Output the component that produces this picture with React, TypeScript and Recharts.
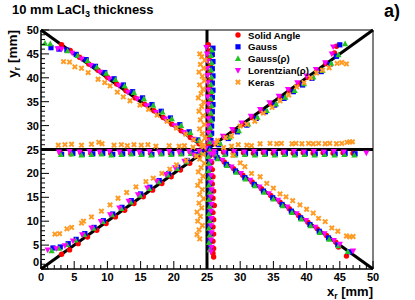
import React from 'react';
import { ScatterChart, Scatter, XAxis, YAxis, ReferenceLine, ReferenceArea, Legend } from 'recharts';

type P = [number, number];

// Solid Angle (red circles)
const solidAngle: P[] = [
  [3.1,46.9],[4.4,45.7],[5.8,44.3],[7.2,42.9],[8.6,41.6],[10.0,40.1],[11.4,38.7],[12.8,37.3],[14.2,35.8],[15.6,34.5],[17.0,33.1],[18.4,31.7],[19.7,30.3],[21.1,28.9],[22.5,27.5],[23.8,26.2],
  [25.2,46.9],[25.4,45.6],[25.3,44.1],[25.5,42.6],[25.4,41.1],[25.5,39.6],[25.4,38.1],[25.5,36.6],[25.5,35.1],[25.4,33.6],[25.5,32.1],[25.4,30.6],[25.4,29.1],[25.3,27.6],[25.2,26.2],
  [26.3,26.2],[27.6,27.6],[29.0,28.9],[30.4,30.3],[31.8,31.7],[33.2,33.1],[34.6,34.5],[36.0,35.9],[37.4,37.3],[38.8,38.7],[40.2,40.1],[41.6,41.5],[42.9,43.0],[44.2,45.2],[44.5,46.6],
  [2.9,24.3],[4.5,24.1],[6.0,24.3],[7.5,24.2],[9.0,24.3],[10.5,24.2],[12.0,24.3],[13.5,24.2],[15.0,24.3],[16.5,24.2],[18.0,24.3],[19.5,24.2],[21.0,24.3],[22.5,24.4],[24.0,24.6],
  [26.0,24.5],[27.5,24.4],[29.0,24.3],[30.5,24.3],[32.0,24.2],[33.5,24.3],[35.0,24.2],[36.5,24.3],[38.0,24.2],[39.5,24.3],[41.0,24.2],[42.5,24.3],[44.0,24.2],[45.5,24.3],[47.0,24.2],
  [3.1,3.1],[4.3,4.0],[5.6,5.3],[7.0,6.7],[8.4,8.1],[9.8,9.5],[11.2,10.9],[12.6,12.3],[14.0,13.7],[15.4,15.1],[16.8,16.5],[18.2,17.9],[19.6,19.3],[21.0,20.7],[22.4,22.1],[23.8,23.6],
  [26.2,23.8],[27.6,22.4],[29.0,21.0],[30.4,19.6],[31.8,18.2],[33.2,16.8],[34.6,15.4],[36.0,14.0],[37.4,12.6],[38.8,11.2],[40.2,9.8],[41.6,8.4],[43.0,7.0],[44.4,5.6],[44.8,4.6],[46.0,2.7],
  [25.5,23.8],[25.7,22.3],[25.8,20.8],[25.9,19.3],[25.8,17.8],[26.0,16.3],[25.9,14.8],[26.1,13.3],[25.9,11.8],[26.0,10.3],[25.9,8.8],[26.0,7.3],[25.9,5.8],[26.0,4.3],[25.9,3.3],[26.0,2.5],
  [25.0,25.0],
];

// Gauss (blue squares)
const gauss: P[] = [
  [1.5,46.3],[2.7,46.0],[3.9,45.8],[5.3,44.9],[6.8,43.8],[8.2,42.4],[9.6,41.1],[11.0,39.8],[12.4,38.5],[13.8,37.1],[15.3,35.8],[16.7,34.4],[18.1,33.0],[19.5,31.6],[20.9,30.2],[22.3,28.7],[23.6,27.0],
  [25.9,46.2],[25.8,44.9],[25.9,43.4],[25.8,41.9],[25.9,40.4],[25.8,38.9],[25.9,37.4],[25.8,35.9],[25.9,34.4],[25.8,32.9],[25.8,31.4],[25.7,29.9],[25.7,28.4],[25.6,26.9],
  [26.8,26.0],[28.2,27.3],[29.6,28.7],[31.0,30.1],[32.4,31.5],[33.8,32.9],[35.2,34.3],[36.6,35.7],[38.0,37.1],[39.4,38.5],[40.8,39.9],[42.2,41.3],[43.5,42.8],[44.5,44.5],[45.0,46.9],
  [3.1,24.0],[4.8,24.2],[6.2,24.0],[7.8,24.1],[9.3,24.2],[10.8,24.0],[12.3,24.1],[13.8,24.2],[15.2,24.1],[16.7,24.0],[18.2,24.2],[19.7,24.1],[21.2,24.2],[22.7,24.3],[24.2,24.4],
  [26.3,24.3],[27.8,24.2],[29.3,24.1],[30.8,24.2],[32.3,24.1],[33.8,24.2],[35.3,24.1],[36.8,24.2],[38.3,24.1],[39.8,24.2],[41.3,24.1],[42.8,24.2],[44.3,24.1],[45.8,24.2],[47.3,24.1],
  [1.8,4.4],[2.9,4.6],[4.1,5.3],[5.3,6.2],[6.6,7.4],[8.0,8.7],[9.4,10.1],[10.8,11.5],[12.2,12.9],[13.6,14.3],[15.0,15.7],[16.4,17.1],[17.8,18.5],[19.2,19.9],[20.6,21.3],[22.0,22.7],[23.4,24.0],
  [26.5,23.3],[27.9,21.9],[29.3,20.5],[30.7,19.1],[32.1,17.7],[33.5,16.3],[34.9,14.9],[36.3,13.5],[37.7,12.1],[39.1,10.7],[40.5,9.3],[41.9,7.9],[43.3,6.5],[44.7,5.1],[46.5,3.6],
  [25.3,23.9],[25.4,22.4],[25.3,20.9],[25.4,19.4],[25.4,17.9],[25.5,16.4],[25.4,14.9],[25.5,13.4],[25.4,11.9],[25.5,10.4],[25.4,8.9],[25.5,7.4],[25.4,5.9],[25.5,4.4],
  [25.3,25.2],
];

// Gauss(rho) (green triangles)
const gaussRho: P[] = [
  [0.6,47.2],[1.4,47.1],[4.0,45.6],[5.5,44.6],[7.0,43.5],[8.4,42.2],[9.8,40.9],[11.2,39.6],[12.6,38.3],[14.0,36.9],[15.5,35.6],[16.9,34.2],[18.3,32.8],[19.7,31.4],[21.1,30.0],[22.5,28.5],[23.8,26.9],
  [25.7,45.8],[25.6,44.6],[25.7,43.1],[25.6,41.6],[25.7,40.1],[25.6,38.6],[25.7,37.1],[25.6,35.6],[25.7,34.1],[25.6,32.6],[25.6,31.1],[25.5,29.6],[25.5,28.1],[25.4,26.6],
  [27.0,26.2],[28.4,27.5],[29.8,28.9],[31.2,30.3],[32.6,31.7],[34.0,33.1],[35.4,34.5],[36.8,35.9],[38.2,37.3],[39.6,38.7],[41.0,40.1],[42.4,41.5],[43.7,43.0],[44.8,44.8],[45.8,47.1],
  [3.0,23.9],[4.6,24.0],[6.1,23.8],[7.6,23.9],[9.1,24.0],[10.6,23.8],[12.1,23.9],[13.6,24.0],[15.1,23.9],[16.6,23.8],[18.1,24.0],[19.6,23.9],[21.1,24.0],[22.6,24.1],[24.1,24.3],
  [26.2,24.0],[27.7,23.9],[29.2,23.8],[30.7,23.9],[32.2,23.8],[33.7,23.9],[35.2,23.8],[36.7,23.9],[38.2,23.8],[39.7,23.9],[41.2,23.8],[42.7,23.9],[44.2,23.8],[45.7,23.9],[47.2,23.8],
  [1.6,3.8],[2.7,4.3],[3.9,5.1],[5.2,6.0],[6.5,7.2],[7.9,8.5],[9.3,9.9],[10.7,11.3],[12.1,12.6],[13.5,14.0],[14.9,15.4],[16.3,16.8],[17.7,18.2],[19.1,19.6],[20.5,21.0],[21.9,22.4],[23.3,23.7],
  [26.6,23.0],[28.0,21.6],[29.4,20.2],[30.8,18.8],[32.2,17.4],[33.6,16.0],[35.0,14.6],[36.4,13.2],[37.8,11.8],[39.2,10.4],[40.6,9.0],[42.0,7.6],[43.4,6.2],[44.8,4.8],[46.2,3.6],
  [25.2,23.5],[25.3,22.0],[25.2,20.5],[25.3,19.0],[25.3,17.5],[25.4,16.0],[25.3,14.5],[25.4,13.0],[25.3,11.5],[25.4,10.0],[25.3,8.5],[25.4,7.0],[25.3,5.5],[25.4,4.0],
  [25.4,24.8],
];

// Lorentzian(rho) (magenta inverted triangles)
const lorentzRho: P[] = [
  [2.5,46.1],[3.1,46.0],[4.7,45.2],[6.1,44.0],[7.5,42.6],[8.9,41.2],[10.3,39.8],[11.7,38.4],[13.1,37.0],[14.5,35.6],[15.9,34.2],[17.3,32.8],[18.7,31.4],[20.1,30.0],[21.5,28.6],[22.9,27.2],[24.2,25.9],
  [24.9,46.4],[25.0,45.0],[25.1,43.5],[25.0,42.0],[25.1,40.5],[25.1,39.0],[25.2,37.5],[25.1,36.0],[25.2,34.5],[25.1,33.0],[25.2,31.5],[25.1,30.0],[25.2,28.5],[25.1,27.0],
  [26.0,26.4],[27.4,27.8],[28.8,29.2],[30.2,30.6],[31.6,32.0],[33.0,33.4],[34.4,34.8],[35.8,36.2],[37.2,37.6],[38.6,39.0],[40.0,40.4],[41.4,41.8],[42.8,43.2],[43.8,45.0],[44.0,46.5],
  [2.7,24.5],[4.3,24.6],[5.8,24.5],[7.3,24.6],[8.8,24.5],[10.3,24.6],[11.8,24.5],[13.3,24.6],[14.8,24.5],[16.3,24.6],[17.8,24.5],[19.3,24.6],[20.8,24.5],[22.3,24.6],[23.8,24.7],
  [26.1,24.6],[27.6,24.5],[29.1,24.6],[30.6,24.5],[32.1,24.6],[33.6,24.5],[35.1,24.6],[36.6,24.5],[38.1,24.6],[39.6,24.5],[41.1,24.6],[42.6,24.5],[44.1,24.6],[45.6,24.5],[49.0,24.3],
  [1.0,4.0],[2.3,4.3],[3.6,4.9],[4.8,5.9],[6.2,7.2],[7.6,8.6],[9.0,10.0],[10.4,11.4],[11.8,12.8],[13.2,14.2],[14.6,15.6],[16.0,17.0],[17.4,18.4],[18.8,19.8],[20.2,21.2],[21.6,22.6],[23.0,23.9],
  [26.0,24.0],[27.3,22.8],[28.7,21.4],[30.1,20.0],[31.5,18.6],[32.9,17.2],[34.3,15.8],[35.7,14.4],[37.1,13.0],[38.5,11.6],[39.9,10.2],[41.3,8.8],[42.7,7.4],[44.1,6.0],[45.0,5.2],[47.0,3.8],
  [25.5,24.1],[25.6,22.6],[25.5,21.1],[25.6,19.6],[25.6,18.1],[25.7,16.6],[25.6,15.1],[25.7,13.6],[25.6,12.1],[25.7,10.6],[25.6,9.1],[25.7,7.6],[25.6,6.1],[25.7,4.6],[25.6,3.6],
  [24.8,25.3],
];

// Keras (orange crosses)
const keras: P[] = [
  [3.4,43.4],[4.3,43.3],[5.1,42.3],[6.1,42.0],[7.1,41.1],[8.6,39.7],[9.6,39.0],[10.4,38.3],[11.5,37.0],[12.4,36.0],[13.4,35.2],[14.9,34.3],[16.2,33.4],[17.5,32.2],[19.0,30.9],[20.4,29.5],[21.8,28.2],[23.0,27.0],[24.2,25.8],
  [23.9,45.0],[24.2,44.4],[24.7,43.7],[24.0,42.8],[24.5,42.0],[23.8,41.2],[24.3,40.3],[24.6,39.4],[23.9,38.5],[24.4,37.6],[24.1,36.7],[23.7,35.8],[24.5,34.9],[24.2,34.0],[23.8,33.0],[24.4,32.1],[24.0,31.2],[24.6,30.2],[23.9,29.3],[24.3,28.3],[24.7,27.4],[24.1,26.5],[24.5,25.6],
  [26.6,26.9],[27.8,27.5],[28.7,27.8],[30.0,29.9],[31.0,30.3],[32.2,30.9],[33.5,32.6],[34.8,33.8],[36.0,35.2],[37.3,36.4],[38.5,38.1],[39.6,39.0],[40.6,40.0],[41.5,41.0],[42.4,41.6],[43.4,42.1],[44.6,43.0],[45.3,43.2],[46.0,42.9],
  [2.6,25.9],[3.6,26.0],[4.6,26.1],[6.1,25.9],[7.6,26.1],[8.7,26.5],[9.2,26.2],[11.0,25.9],[12.1,26.0],[13.0,25.8],[14.0,26.0],[15.1,25.9],[16.1,26.0],[17.3,25.7],[19.3,25.8],[20.8,25.7],[21.6,25.8],[22.9,25.5],
  [26.4,26.3],[27.5,25.4],[28.7,25.7],[29.7,26.0],[31.0,25.9],[31.7,25.8],[33.0,26.2],[34.5,26.3],[35.5,26.2],[36.2,26.3],[37.8,26.2],[38.4,26.3],[39.3,26.2],[40.3,26.3],[41.0,26.2],[41.8,26.3],[42.8,26.2],[43.5,26.3],[44.5,26.2],[45.3,26.3],[46.1,26.5],[46.5,26.6],[46.9,26.6],
  [2.1,7.3],[2.8,7.4],[3.9,8.4],[4.6,8.7],[6.1,9.6],[6.4,10.0],[7.6,10.9],[9.1,12.1],[10.4,13.4],[11.6,14.8],[12.9,16.0],[14.3,17.2],[15.8,18.3],[16.9,19.0],[18.2,20.0],[19.4,20.9],[20.4,21.8],[21.9,22.7],[23.4,23.6],
  [28.9,23.8],[30.0,22.2],[30.7,21.4],[31.7,20.0],[33.0,19.3],[34.0,17.9],[35.0,16.9],[36.0,15.7],[36.9,15.1],[37.9,14.3],[39.0,13.4],[40.0,12.5],[41.0,11.7],[41.8,10.6],[42.8,9.9],[43.8,8.6],[44.7,7.9],[46.0,6.9],[46.5,6.7],[47.0,6.8],
  [24.4,24.0],[23.9,23.0],[24.6,22.1],[24.1,21.2],[23.7,20.3],[24.4,19.4],[24.0,18.4],[23.6,17.5],[24.3,16.6],[23.9,15.6],[24.5,14.7],[23.8,13.8],[24.2,12.8],[23.5,11.9],[24.0,11.0],[23.6,10.0],[24.3,9.1],[23.8,8.2],[23.5,7.2],[23.9,6.3],
];

const seriesNames = ['Solid Angle', 'Gauss', 'Gauss(\u03c1)', 'Lorentzian(\u03c1)', 'Keras'];
const seriesColors = ['#ff0000', '#0000ff', '#22c422', '#ff00ff', '#ff9a22'];
const axisTicks = [0,1,2,3,4,5,6,7,8,9,10,11,12,13,14,15,16,17,18,19,20,21,22,23,24,25,26,27,28,29,30,31,32,33,34,35,36,37,38,39,40,41,42,43,44,45,46,47,48,49,50];
const axisMin = 0;
const axisMax = 50;
const center = 25;

const FONT = '"Liberation Sans", Arial, Helvetica, sans-serif';

const toObj = (arr: P[]) => arr.map(([x, y]) => ({ x, y }));

const markerFor = (idx: number, cx: number, cy: number, key?: any) => {
  const c = seriesColors[idx];
  if (idx === 0) return <circle key={key} cx={cx} cy={cy} r={2.7} fill={c} />;
  if (idx === 1) return <rect key={key} x={cx - 2.6} y={cy - 2.6} width={5.2} height={5.2} fill={c} />;
  if (idx === 2) return <polygon key={key} points={`${cx},${cy - 3.3} ${cx + 3.1},${cy + 2.3} ${cx - 3.1},${cy + 2.3}`} fill={c} />;
  if (idx === 3) return <polygon key={key} points={`${cx},${cy + 3.3} ${cx + 3.1},${cy - 2.3} ${cx - 3.1},${cy - 2.3}`} fill={c} />;
  const s = 2.9, w = 1.4;
  const pts = [
    [cx - s, cy - s + w], [cx - s + w, cy - s], [cx, cy - w], [cx + s - w, cy - s], [cx + s, cy - s + w], [cx + w, cy],
    [cx + s, cy + s - w], [cx + s - w, cy + s], [cx, cy + w], [cx - s + w, cy + s], [cx - s, cy + s - w], [cx - w, cy],
  ].map((p) => p.join(',')).join(' ');
  return <polygon key={key} points={pts} fill={c} />;
};

const makeShape = (idx: number) => (props: any) => {
  if (props.cx == null || props.cy == null) return <g />;
  return markerFor(idx, props.cx, props.cy);
};

const XTick = (props: any) => {
  const { x, y, payload } = props;
  const v = payload.value;
  const major = v % 5 === 0;
  return (
    <g>
      <line x1={x} y1={y} x2={x} y2={y - (major ? 8 : 4)} stroke="#000" strokeWidth={1} />
      {major && (
        <text x={x} y={y + 12} textAnchor="middle" fontSize={11} fontWeight="bold" fontFamily={FONT} fill="#000">
          {v}
        </text>
      )}
    </g>
  );
};

const YTick = (props: any) => {
  const { x, y, payload } = props;
  const v = payload.value;
  const major = v % 5 === 0;
  return (
    <g>
      <line x1={x} y1={y} x2={x + (major ? 8 : 4)} y2={y} stroke="#000" strokeWidth={1} />
      {major && (
        <text x={x - 2} y={y + 4 - (v === 0 ? 7 : 0)} textAnchor="end" fontSize={11} fontWeight="bold" fontFamily={FONT} fill="#000">
          {v}
        </text>
      )}
    </g>
  );
};

const LegendBox = () => (
  <svg width={110} height={62} style={{ display: 'block', overflow: 'visible' }}>
    {seriesNames.map((n, i) => (
      <g key={n}>
        {markerFor(i, 6, 7 + i * 11.8)}
        <text x={16} y={7 + i * 11.8 + 3.5} fontSize={9.6} fontWeight="bold" fontFamily={FONT} fill="#000">
          {n}
        </text>
      </g>
    ))}
  </svg>
);

const allSeries = [solidAngle, gauss, gaussRho, lorentzRho, keras];

export default function App() {
  return (
    <div style={{ position: 'absolute', left: 0, top: 0, width: 415, height: 300, background: '#fff', fontFamily: FONT }}>
      <ScatterChart width={415} height={300} margin={{ top: 30, right: 42, left: 0, bottom: 0 }}>
        <XAxis
          type="number"
          dataKey="x"
          domain={[axisMin, axisMax]}
          ticks={axisTicks}
          interval={0}
          height={31}
          tickSize={0}
          tickMargin={0}
          tickLine={false}
          tick={<XTick />}
          axisLine={{ stroke: '#000', strokeWidth: 1 }}
          allowDataOverflow
        />
        <YAxis
          type="number"
          dataKey="y"
          domain={[axisMin, axisMax]}
          ticks={axisTicks}
          interval={0}
          width={41}
          tickSize={0}
          tickMargin={0}
          tickLine={false}
          tick={<YTick />}
          axisLine={{ stroke: '#000', strokeWidth: 1 }}
          allowDataOverflow
        />
        <ReferenceArea x1={axisMin} x2={axisMax} y1={axisMin} y2={axisMax} fill="none" fillOpacity={0} stroke="#000" strokeWidth={1} />
        <ReferenceLine segment={[{ x: axisMin, y: axisMin }, { x: axisMax, y: axisMax }]} stroke="#000" strokeWidth={3} />
        <ReferenceLine segment={[{ x: axisMin, y: axisMax }, { x: axisMax, y: axisMin }]} stroke="#000" strokeWidth={3} />
        <ReferenceLine y={center} stroke="#000" strokeWidth={3} />
        <ReferenceLine x={center} stroke="#000" strokeWidth={3} />
        {allSeries.map((s, i) => (
          <Scatter key={seriesNames[i]} name={seriesNames[i]} data={toObj(s)} fill={seriesColors[i]} shape={makeShape(i)} isAnimationActive={false} />
        ))}
        <Legend
          layout="horizontal"
          verticalAlign="middle"
          align="center"
          content={() => <LegendBox />}
          wrapperStyle={{ position: 'absolute', left: 232, top: 28, width: 110, height: 62 }}
        />
      </ScatterChart>
      <svg width={415} height={300} style={{ position: 'absolute', left: 0, top: 0, pointerEvents: 'none' }}>
        <text x={12} y={14} fontSize={13} fontWeight="bold" fontFamily={FONT} fill="#000">
          10 mm LaCl<tspan fontSize={9} dy={3}>3</tspan><tspan dy={-3}> thickness</tspan>
        </text>
        <text x={400} y={17} textAnchor="end" fontSize={18} fontWeight="bold" fontFamily={FONT} fill="#000">a)</text>
        <text x={373} y={296} textAnchor="end" fontSize={13} fontWeight="bold" fontFamily={FONT} fill="#000">
          x<tspan fontSize={8.5} dy={2.5}>r</tspan><tspan dy={-2.5}> [mm]</tspan>
        </text>
        <text transform="translate(17,30) rotate(-90)" textAnchor="end" fontSize={13.5} fontWeight="bold" fontFamily={FONT} fill="#000">
          y<tspan fontSize={9} dy={3}>r</tspan><tspan dy={-3}> [mm]</tspan>
        </text>
      </svg>
    </div>
  );
}
